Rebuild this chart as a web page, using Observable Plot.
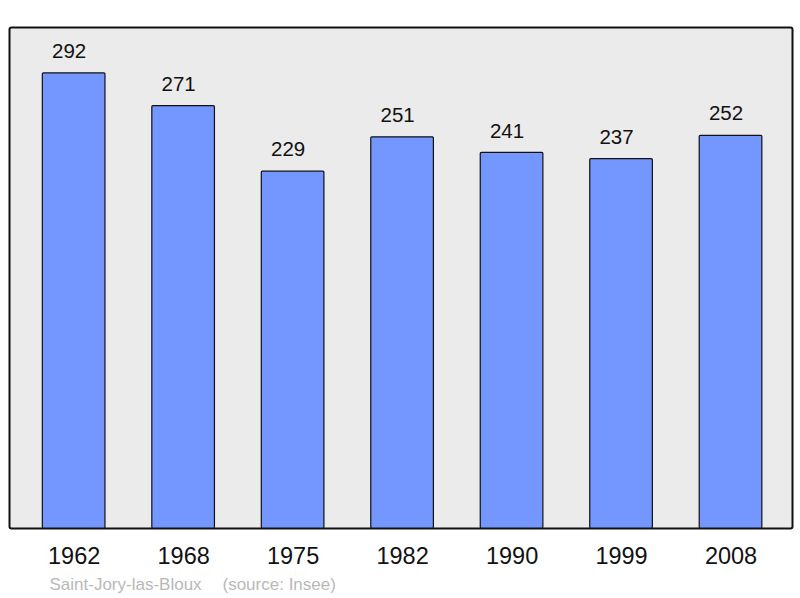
<!DOCTYPE html>
<html>
<head>
<meta charset="utf-8">
<script src="https://cdn.jsdelivr.net/npm/d3@7"></script>
<script src="https://cdn.jsdelivr.net/npm/@observablehq/plot@0.6"></script>
<style>
  html, body { margin: 0; padding: 0; background: #fff; }
  svg { display: block; }
</style>
</head>
<body>
<div id="chart"></div>
<script>
const years = ["1962", "1968", "1975", "1982", "1990", "1999", "2008"];
const population = [292, 271, 229, 251, 241, 237, 252];
const commune = "Saint-Jory-las-Bloux";
const source = "(source: Insee)";

const data = years.map((y, i) => ({year: y, value: population[i]}));

const chart = Plot.plot({
  width: 800,
  height: 598,
  marginTop: 27,
  marginBottom: 70,
  marginLeft: 9,
  marginRight: 8,
  style: {fontFamily: "'Liberation Sans', Arial, sans-serif", background: "#fff"},
  x: {domain: years, paddingInner: 0.428, paddingOuter: 0.29, align: 0.525, round: false, axis: null},
  y: {domain: [0, 321.5], axis: null},
  marks: [
    Plot.frame({fill: "#ebebeb", stroke: "#111", strokeWidth: 2, rx: 2}),
    Plot.barY(data, {x: "year", y: "value", fill: "#7396ff", stroke: "#111", strokeWidth: 1.2, rx: 1}),
    Plot.text(data, {x: "year", y: "value", text: d => String(d.value), dx: -5, dy: -22, fontSize: 20.5, fill: "#111"}),
    Plot.text(data, {x: "year", frameAnchor: "bottom", text: "year", dy: 35.5, fontSize: 23.5, fill: "#111"}),
    Plot.text([commune], {frameAnchor: "bottom-left", text: d => d, dx: 40, dy: 61.5, textAnchor: "start", fontSize: 17, fill: "#b8b8b8"}),
    Plot.text([source], {frameAnchor: "bottom-left", text: d => d, dx: 213, dy: 61.5, textAnchor: "start", fontSize: 17, fill: "#b8b8b8"})
  ]
});
document.getElementById("chart").append(chart);
</script>
</body>
</html>
